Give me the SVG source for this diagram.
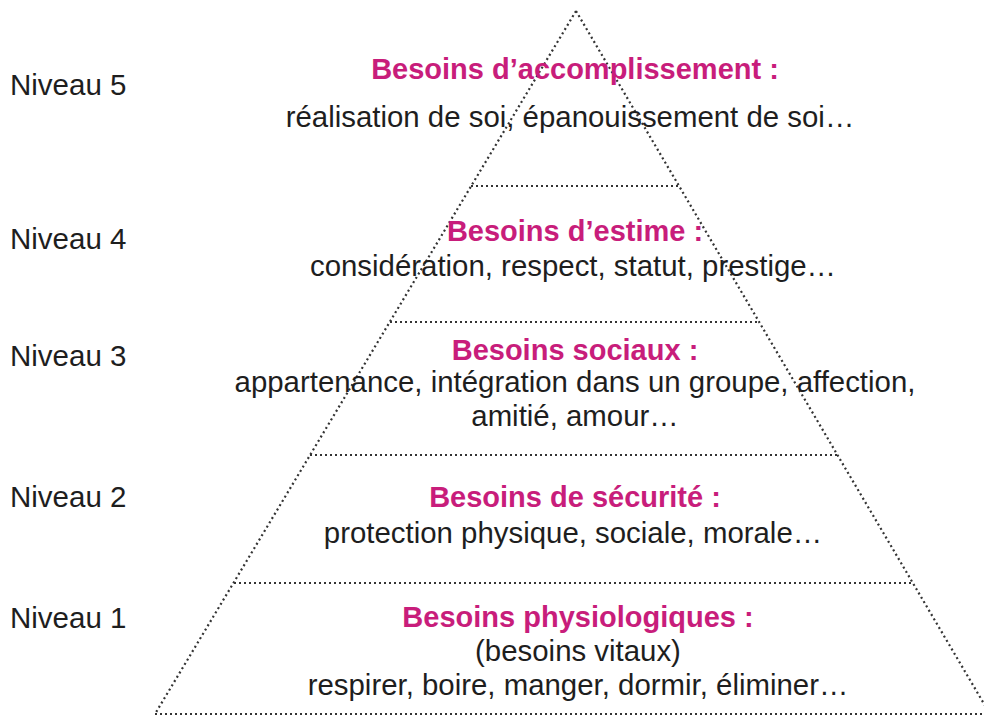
<svg xmlns="http://www.w3.org/2000/svg" width="984" height="716" viewBox="0 0 984 716">
  <style>
    .dot { stroke: #333333; stroke-width: 2.2; stroke-dasharray: 2 3; fill: none; }
    .lvl { font-family: "Liberation Sans", Arial, sans-serif; font-size: 29.5px; fill: #1e1e1e; }
    .ttl { font-family: "Liberation Sans", Arial, sans-serif; font-size: 29px; font-weight: bold; fill: #c81d7b; text-anchor: middle; }
    .txt { font-family: "Liberation Sans", Arial, sans-serif; font-size: 29.4px; fill: #1e1e1e; text-anchor: middle; }
  </style>
  <rect width="984" height="716" fill="#ffffff"/>

  <!-- pyramid outline and tier separators -->
  <g id="connectors">
    <line class="dot" x1="576" y1="11" x2="155" y2="714"/>
    <line class="dot" x1="576" y1="11" x2="990" y2="714"/>
    <line class="dot" x1="155" y1="714" x2="990" y2="714"/>
    <line class="dot" x1="471" y1="186" x2="679" y2="186"/>
    <line class="dot" x1="390" y1="322" x2="759" y2="322"/>
    <line class="dot" x1="310" y1="455" x2="838" y2="455"/>
    <line class="dot" x1="234" y1="583" x2="913" y2="583"/>
  </g>

  <!-- level labels -->
  <g id="labels">
    <text class="lvl" x="10" y="95">Niveau 5</text>
    <text class="lvl" x="10" y="249">Niveau 4</text>
    <text class="lvl" x="10" y="366">Niveau 3</text>
    <text class="lvl" x="10" y="507">Niveau 2</text>
    <text class="lvl" x="10" y="628">Niveau 1</text>
  </g>

  <g id="tier5">
    <text class="ttl" x="575" y="79">Besoins d’accomplissement :</text>
    <text class="txt" x="570" y="127">réalisation de soi, épanouissement de soi…</text>
  </g>

  <g id="tier4">
    <text class="ttl" x="575" y="241">Besoins d’estime :</text>
    <text class="txt" x="573" y="276">considération, respect, statut, prestige…</text>
  </g>

  <g id="tier3">
    <text class="ttl" x="575" y="360">Besoins sociaux :</text>
    <text class="txt" x="575" y="392">appartenance, intégration dans un groupe, affection,</text>
    <text class="txt" x="575" y="426">amitié, amour…</text>
  </g>

  <g id="tier2">
    <text class="ttl" x="575" y="507">Besoins de sécurité :</text>
    <text class="txt" x="573" y="543">protection physique, sociale, morale…</text>
  </g>

  <g id="tier1">
    <text class="ttl" x="578" y="627">Besoins physiologiques :</text>
    <text class="txt" x="578" y="661">(besoins vitaux)</text>
    <text class="txt" x="578" y="695">respirer, boire, manger, dormir, éliminer…</text>
  </g>
</svg>
